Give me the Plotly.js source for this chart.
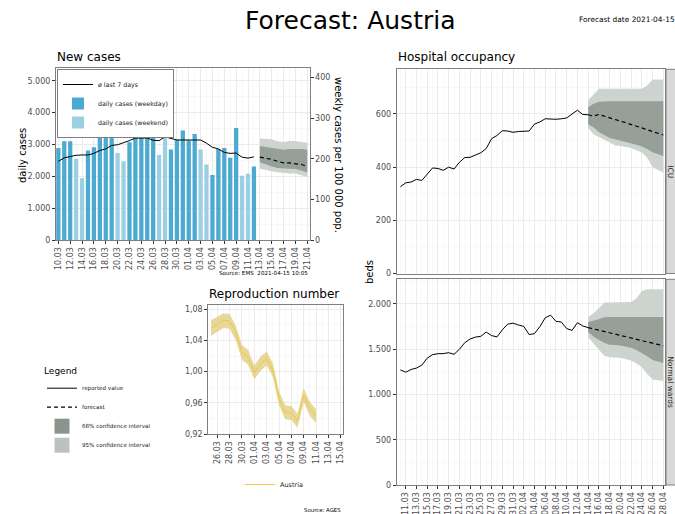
<!DOCTYPE html>
<html><head><meta charset="utf-8">
<script src="https://cdn.plot.ly/plotly-3.0.1.min.js"></script>
<style>html,body{margin:0;padding:0;background:#fff}#chart{width:675px;height:514px}</style>
</head><body><div id="chart"></div>
<script>
// ---------------- data ----------------
const casesStart = '2021-03-10';
const dailyCases = [2890,3100,3100,2550,1940,2810,2910,3560,3260,3690,2730,2470,3070,3570,3480,3230,3370,2670,3300,2840,3150,3440,3120,3330,2840,2370,2040,2860,2890,2580,3520,2020,2080,2310];
const avg7Days = [2470,2580,2620,2660,2670,2670,2720,2810,2860,2970,2990,3050,3120,3200,3200,3200,3130,3120,3240,3200,3140,3140,3140,3140,3140,3040,2910,2860,2750,2720,2730,2600,2570,2610];
const casesFcStart = '2021-04-13';
const casesFc = [2600,2570,2530,2470,2420,2420,2400,2370,2320];
const casesFc68Hi = [2950,2920,2890,2850,2830,2860,2870,2860,2830];
const casesFc68Lo = [2440,2380,2310,2260,2250,2240,2230,2180,2120];
const casesFc95Hi = [3190,3180,3160,3100,3080,3110,3110,3080,3050];
const casesFc95Lo = [2240,2200,2160,2130,2100,2090,2090,2040,1980];
const weeklyAxisMax = 423.2; // weekly cases per 100 000 pop. at the top of the cases panel

const rStart = '2021-03-25';
const rValue = [1.056,1.061,1.066,1.065,1.050,1.025,1.018,0.999,1.010,1.017,1.002,0.966,0.948,0.947,0.937,0.970,0.952,0.943];
const rHigh  = [1.066,1.071,1.075,1.074,1.059,1.034,1.028,1.008,1.019,1.026,1.011,0.975,0.957,0.956,0.946,0.979,0.961,0.952];
const rLow   = [1.046,1.051,1.056,1.055,1.040,1.015,1.009,0.990,1.001,1.008,0.993,0.957,0.939,0.938,0.928,0.961,0.943,0.934];

const hospStart = '2021-03-10';
const hospFcStart = '2021-04-14';
const icu = [326,341,344,354,350,372,397,395,388,400,393,418,436,437,447,454,470,507,519,537,536,531,534,536,536,562,570,582,581,580,582,585,600,614,598,597];
const icuFc    = [597,592,598,591,585,579,573,567,561,554,548,541,534,528,521];
const icuFc68Hi = [625,638,646,648,648,648,648,648,648,648,648,648,648,648,648];
const icuFc68Lo = [560,550,532,520,510,505,500,495,490,484,478,468,456,450,442];
const icuFc95Hi = [652,675,695,695,695,695,695,695,695,695,695,707,730,730,730];
const icuFc95Lo = [547,524,512,503,494,481,480,476,472,464,455,435,400,390,380];
const ward = [1270,1245,1275,1290,1323,1400,1438,1449,1450,1460,1442,1497,1570,1612,1632,1641,1688,1649,1634,1712,1775,1786,1766,1750,1660,1671,1748,1845,1874,1806,1798,1726,1706,1792,1755,1737];
const wardFc    = [1737,1722,1709,1694,1681,1666,1652,1637,1623,1608,1594,1580,1565,1551,1536];
const wardFc68Hi = [1800,1812,1828,1850,1855,1855,1855,1855,1855,1855,1855,1855,1855,1855,1855];
const wardFc68Lo = [1688,1640,1600,1570,1548,1545,1540,1530,1515,1490,1455,1420,1380,1360,1345];
const wardFc95Hi = [1855,1895,1950,2015,2015,2015,2015,2015,2020,2060,2140,2160,2160,2160,2160];
const wardFc95Lo = [1630,1565,1497,1427,1410,1408,1405,1390,1375,1340,1300,1225,1165,1160,1148];

// ---------------- helpers ----------------
const DAY = 86400000;
function dateSeq(start, n) {
  const t0 = Date.parse(start + 'T00:00:00Z'); const out = [];
  for (let i = 0; i < n; i++) out.push(new Date(t0 + i * DAY).toISOString().slice(0, 10));
  return out;
}
function isWeekend(d) { const w = new Date(d + 'T00:00:00Z').getUTCDay(); return w === 0 || w === 6; }
function band(x, hi, lo, color, xa, ya) {
  return {x: x.concat(x.slice().reverse()), y: hi.concat(lo.slice().reverse()), xaxis: xa, yaxis: ya,
    type: 'scatter', mode: 'lines', fill: 'toself', fillcolor: color, line: {width: 0}, showlegend: false, hoverinfo: 'skip'};
}
const C95 = '#CDD3CE', C68 = '#979F99';
const DARKBLUE = '#4CA9D0', LIGHTBLUE = '#9DCFE3';

const caseDates = dateSeq(casesStart, dailyCases.length);
const caseFcDates = dateSeq(casesFcStart, casesFc.length);
const rDates = dateSeq(rStart, rValue.length);
const hospDates = dateSeq(hospStart, icu.length);
const hospFcDates = dateSeq(hospFcStart, icuFc.length);

const wdX = [], wdY = [], weX = [], weY = [];
caseDates.forEach((d, i) => { if (isWeekend(d)) { weX.push(d); weY.push(dailyCases[i]); } else { wdX.push(d); wdY.push(dailyCases[i]); } });

const traces = [
  // new cases
  {type: 'bar', x: wdX, y: wdY, xaxis: 'x', yaxis: 'y', width: 0.72 * DAY, marker: {color: DARKBLUE}, name: 'daily cases (weekday)', legend: 'legend', legendrank: 2, hoverinfo: 'skip'},
  {type: 'bar', x: weX, y: weY, xaxis: 'x', yaxis: 'y', width: 0.72 * DAY, marker: {color: LIGHTBLUE}, name: 'daily cases (weekend)', legend: 'legend', legendrank: 3, hoverinfo: 'skip'},
  band(caseFcDates, casesFc95Hi, casesFc95Lo, C95, 'x', 'y'),
  band(caseFcDates, casesFc68Hi, casesFc68Lo, C68, 'x', 'y'),
  {type: 'scatter', mode: 'lines', x: caseFcDates, y: casesFc, xaxis: 'x', yaxis: 'y', line: {color: '#000', width: 1.2, dash: '4px,3px'}, showlegend: false, hoverinfo: 'skip'},
  {type: 'scatter', mode: 'lines', x: caseDates, y: avg7Days, xaxis: 'x', yaxis: 'y', line: {color: '#000', width: 1}, name: 'ø last 7 days', legend: 'legend', legendrank: 1, hoverinfo: 'skip'},
  // secondary (weekly per 100 000) axis carrier
  {type: 'scatter', mode: 'lines', x: [null], y: [null], xaxis: 'x', yaxis: 'y2', showlegend: false, hoverinfo: 'skip'},
  // reproduction number
  band(rDates, rHigh, rLow, 'rgba(222,200,110,0.7)', 'x2', 'y3'),
  {type: 'scatter', mode: 'lines', x: rDates, y: rValue, xaxis: 'x2', yaxis: 'y3', line: {color: '#EEC84A', width: 1}, name: 'Austria', legend: 'legend2', hoverinfo: 'skip'},
  // ICU
  band(hospFcDates, icuFc95Hi, icuFc95Lo, C95, 'x4', 'y4'),
  band(hospFcDates, icuFc68Hi, icuFc68Lo, C68, 'x4', 'y4'),
  {type: 'scatter', mode: 'lines', x: hospDates, y: icu, xaxis: 'x4', yaxis: 'y4', line: {color: '#000', width: 1}, showlegend: false, hoverinfo: 'skip'},
  {type: 'scatter', mode: 'lines', x: hospFcDates, y: icuFc, xaxis: 'x4', yaxis: 'y4', line: {color: '#000', width: 1.2, dash: '4px,3px'}, showlegend: false, hoverinfo: 'skip'},
  // Normal wards
  band(hospFcDates, wardFc95Hi, wardFc95Lo, C95, 'x3', 'y5'),
  band(hospFcDates, wardFc68Hi, wardFc68Lo, C68, 'x3', 'y5'),
  {type: 'scatter', mode: 'lines', x: hospDates, y: ward, xaxis: 'x3', yaxis: 'y5', line: {color: '#000', width: 1}, showlegend: false, hoverinfo: 'skip'},
  {type: 'scatter', mode: 'lines', x: hospFcDates, y: wardFc, xaxis: 'x3', yaxis: 'y5', line: {color: '#000', width: 1.2, dash: '4px,3px'}, showlegend: false, hoverinfo: 'skip'},
  // general legend entries
  {type: 'scatter', mode: 'lines', x: [null], y: [null], xaxis: 'x3', yaxis: 'y5', line: {color: '#000', width: 1}, name: 'reported value', legend: 'legend3', legendrank: 1, hoverinfo: 'skip'},
  {type: 'scatter', mode: 'lines', x: [null], y: [null], xaxis: 'x3', yaxis: 'y5', line: {color: '#000', width: 1.2, dash: '4px,3px'}, name: 'forecast', legend: 'legend3', legendrank: 2, hoverinfo: 'skip'},
  {type: 'scatter', mode: 'markers', x: [null], y: [null], xaxis: 'x3', yaxis: 'y5', marker: {symbol: 'square', size: 15, color: '#8C948E'}, name: '68% confidence interval', legend: 'legend3', legendrank: 3, hoverinfo: 'skip'},
  {type: 'scatter', mode: 'markers', x: [null], y: [null], xaxis: 'x3', yaxis: 'y5', marker: {symbol: 'square', size: 15, color: '#BCC2BD'}, name: '95% confidence interval', legend: 'legend3', legendrank: 4, hoverinfo: 'skip'}
];

// ---------------- layout ----------------
const W = 675, H = 514;
const px = v => v / W, py = v => 1 - v / H;
const GRID = '#EBEBEB', MINOR = '#F3F3F3', BORDER = '#7F7F7F', TICKC = '#4D4D4D';
const tickFont = {size: 8, color: TICKC};
function dateAxis(domain, range, tick0, anchor, extra) {
  return Object.assign({type: 'date', domain: domain, range: range, tick0: tick0, dtick: 2 * DAY, tickformat: '%d.%m',
    tickangle: -90, tickfont: tickFont, ticks: 'outside', ticklen: 3, tickcolor: '#333', showgrid: true, gridcolor: GRID, gridwidth: 1,
    minor: {tick0: tick0, dtick: DAY, showgrid: true, gridcolor: MINOR, gridwidth: 0.6}, showline: true, mirror: true, linecolor: BORDER,
    zeroline: false, anchor: anchor, fixedrange: true}, extra || {});
}
function numAxis(domain, range, dtick, minorDtick, fmt, anchor, extra) {
  return Object.assign({domain: domain, range: range, dtick: dtick, tick0: 0, tickformat: fmt, tickfont: tickFont, ticks: 'outside', ticklen: 3,
    tickcolor: '#333', showgrid: true, gridcolor: GRID, gridwidth: 1, minor: {dtick: minorDtick, showgrid: true, gridcolor: MINOR, gridwidth: 0.6},
    showline: true, mirror: true, linecolor: BORDER, zeroline: false, anchor: anchor, fixedrange: true}, extra || {});
}

const casesDomX = [px(56), px(309.5)], casesDomY = [py(240), py(68)];
const rDomX = [px(208.3), px(343.3)], rDomY = [py(434), py(305)];
const hospDomX = [px(396.7), px(665)];
const icuDomY = [py(273.5), py(69.3)], wardDomY = [py(485), py(279.3)];
const hospRange = ['2021-03-09 07:40', '2021-04-28 07:40'];

const ann = (text, x, y, size, opts) => Object.assign({text: text, x: x, y: y, xref: 'paper', yref: 'paper', showarrow: false,
  font: {size: size, color: '#000'}, xanchor: 'left', yanchor: 'middle'}, opts || {});

const layout = {
  width: W, height: H, margin: {l: 0, r: 0, t: 0, b: 0}, paper_bgcolor: '#fff', plot_bgcolor: '#fff',
  font: {family: 'DejaVu Sans, sans-serif', color: '#000'}, separators: ',.', barmode: 'overlay', showlegend: true,
  xaxis: dateAxis(casesDomX, ['2021-03-09 14:30', '2021-04-21 09:00'], '2021-03-10', 'y'),
  yaxis: numAxis(casesDomY, [0, 5400], 1000, 500, ',d', 'x'),
  yaxis2: {overlaying: 'y', side: 'right', anchor: 'x', range: [0, weeklyAxisMax], dtick: 100, tick0: 0, tickfont: tickFont, ticks: 'outside',
    ticklen: 3, tickcolor: '#333', showgrid: false, zeroline: false, showline: false, fixedrange: true, showticklabels: true},
  xaxis2: dateAxis(rDomX, ['2021-03-24 13:00', '2021-04-15 10:00'], '2021-03-26', 'y3'),
  yaxis3: numAxis(rDomY, [0.92, 1.0855], 0.04, 0.02, '.2f', 'x2', {tick0: 0.92}),
  xaxis3: dateAxis(hospDomX, hospRange, '2021-03-11', 'y5'),
  xaxis4: dateAxis(hospDomX, hospRange, '2021-03-11', 'y4', {showticklabels: false, ticks: ''}),
  yaxis4: numAxis(icuDomY, [0, 768], 200, 100, ',d', 'x4'),
  yaxis5: numAxis(wardDomY, [0, 2270], 500, 250, ',d', 'x3'),
  legend: {x: px(57), y: py(69), xanchor: 'left', yanchor: 'top', bgcolor: '#fff', bordercolor: BORDER, borderwidth: 1,
    font: {size: 6.3, color: '#1A1A1A'}, tracegroupgap: 0, itemwidth: 30, traceorder: 'normal'},
  legend2: {x: px(240), y: py(470), xanchor: 'left', yanchor: 'top', orientation: 'h', bgcolor: 'rgba(0,0,0,0)',
    font: {size: 6.5, color: '#1A1A1A'}, itemwidth: 30},
  legend3: {x: px(42), y: py(362), xanchor: 'left', yanchor: 'top', bgcolor: 'rgba(0,0,0,0)', title: {text: 'Legend', font: {size: 9, color: '#000'}},
    font: {size: 5.6, color: '#1A1A1A'}, tracegroupgap: 0, itemwidth: 30, traceorder: 'normal'},
  shapes: [
    {type: 'rect', xref: 'paper', yref: 'paper', x0: px(666), x1: 1.05, y0: icuDomY[0], y1: icuDomY[1], fillcolor: '#D9D9D9', line: {color: BORDER, width: 1}},
    {type: 'rect', xref: 'paper', yref: 'paper', x0: px(666), x1: 1.05, y0: wardDomY[0], y1: wardDomY[1], fillcolor: '#D9D9D9', line: {color: BORDER, width: 1}}
  ],
  annotations: [
    ann('Forecast: Austria', px(350), py(21), 25, {xanchor: 'center'}),
    ann('Forecast date 2021-04-15', px(577), py(20), 7.4),
    ann('New cases', px(55), py(57), 12),
    ann('Hospital occupancy', px(396), py(57), 12),
    ann('Reproduction number', px(207), py(294), 12),
    ann('daily cases', px(22), py(155), 10, {xanchor: 'center', textangle: -90}),
    ann('weekly cases per 100 000 pop.', px(339), py(155), 10, {xanchor: 'center', textangle: 90}),
    ann('beds', px(369), py(272), 10, {xanchor: 'center', textangle: -90}),
    ann('Source: EMS  2021-04-15 10:05', px(310), py(273), 5.6, {xanchor: 'right'}),
    ann('Source: AGES', px(343), py(510), 5.4, {xanchor: 'right'}),
    ann('ICU', px(671), (icuDomY[0] + icuDomY[1]) / 2, 7.5, {xanchor: 'center', textangle: 90, font: {size: 7.5, color: '#1A1A1A'}}),
    ann('Normal wards', px(671), (wardDomY[0] + wardDomY[1]) / 2, 7.5, {xanchor: 'center', textangle: 90, font: {size: 7.5, color: '#1A1A1A'}})
  ]
};

Plotly.newPlot('chart', traces, layout, {staticPlot: true, displayModeBar: false});
</script>
</body></html>
